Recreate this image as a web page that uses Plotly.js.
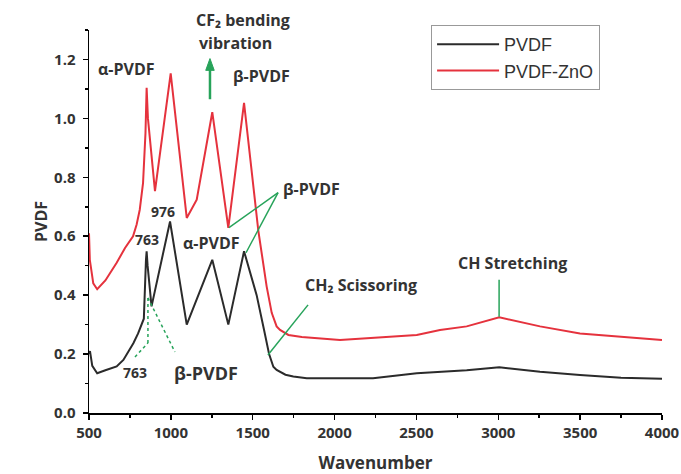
<!DOCTYPE html>
<html>
<head>
<meta charset="utf-8">
<script src="https://cdn.plot.ly/plotly-3.0.1.min.js"></script>
<style>html,body{margin:0;padding:0;background:#fff;}#chart{width:681px;height:474px;}</style>
</head>
<body>
<div id="chart"></div>
<script>
// Wavenumber / absorbance samples
const wnPVDF = [500, 506, 520, 550, 600, 669, 710, 771, 800, 835, 848, 852, 858, 882, 995, 1097, 1253, 1351, 1447, 1524, 1570, 1600, 1626, 1646, 1700, 1748, 1830, 2033, 2235, 2502, 2644, 2807, 3006, 3255, 3499, 3750, 4000];
const valPVDF = [0.20, 0.21, 0.16, 0.135, 0.145, 0.158, 0.18, 0.237, 0.27, 0.32, 0.52, 0.549, 0.50, 0.362, 0.65, 0.30, 0.52, 0.30, 0.549, 0.40, 0.28, 0.20, 0.157, 0.146, 0.13, 0.124, 0.118, 0.118, 0.118, 0.135, 0.14, 0.145, 0.155, 0.14, 0.129, 0.12, 0.116];

const wnZnO = [500, 505, 526, 550, 600, 669, 720, 769, 791, 810, 830, 845, 852, 860, 903, 999, 1097, 1158, 1253, 1351, 1447, 1534, 1585, 1616, 1646, 1667, 1718, 1800, 2033, 2339, 2502, 2644, 2807, 3006, 3255, 3499, 3750, 4000];
const valZnO = [0.61, 0.52, 0.44, 0.42, 0.45, 0.51, 0.56, 0.60, 0.64, 0.69, 0.78, 0.95, 1.104, 1.0, 0.753, 1.153, 0.662, 0.724, 1.021, 0.628, 1.053, 0.62, 0.43, 0.34, 0.294, 0.282, 0.265, 0.258, 0.248, 0.26, 0.265, 0.282, 0.294, 0.325, 0.294, 0.27, 0.258, 0.248];

const seriesNames = ['PVDF', 'PVDF-ZnO'];
const xTicks = [500, 1000, 1500, 2000, 2500, 3000, 3500, 4000];
const yTicks = [0.0, 0.2, 0.4, 0.6, 0.8, 1.0, 1.2];

const GREEN = '#27a35a';
const TXT = '#333333';
const annFont = {family: 'Open Sans, DejaVu Sans, sans-serif', size: 16, color: TXT, weight: 'bold'};

function label(text, x, y, size, yref) {
  return {text: text, x: x, y: y, xref: 'x', yref: yref || 'y', showarrow: false,
          font: Object.assign({}, annFont, size ? {size: size} : {}), xanchor: 'center', yanchor: 'middle'};
}

const annotations = [
  label('CF₂ bending', 1441, 1.026, 16, 'paper'),
  label('vibration', 1392, 0.966, 16, 'paper'),
  label('β-PVDF', 1551, 1.143),
  label('α-PVDF', 726, 1.167),
  label('β-PVDF', 1862, 0.759),
  label('976', 952, 0.684, 14),
  label('763', 854, 0.588, 14),
  label('α-PVDF', 1251, 0.578),
  label('763', 781, 0.136, 14),
  label('β-PVDF', 1215, 0.136, 18),
  label('CH₂ Scissoring', 2162, 0.435),
  label('CH Stretching', 3084, 0.51)
];

function seg(x0, y0, x1, y1, dash, w) {
  return {type: 'line', xref: 'x', yref: 'y', x0: x0, y0: y0, x1: x1, y1: y1,
          line: {color: GREEN, width: w || 1.5, dash: dash || 'solid'}};
}
const shapes = [
  // CF2 arrow (shaft + head)
  seg(1239, 1.065, 1239, 1.17, 'solid', 2.5),
  {type: 'path', xref: 'x', yref: 'y', path: 'M 1213,1.163 L 1265,1.163 L 1239,1.203 Z',
   fillcolor: GREEN, line: {color: GREEN, width: 1}},
  seg(1655, 0.748, 1355, 0.629),
  seg(1655, 0.748, 1459, 0.544),
  seg(1838, 0.367, 1593, 0.197),
  seg(3005, 0.452, 3005, 0.327),
  seg(781, 0.19, 860, 0.238, 'dot'),
  seg(860, 0.238, 860, 0.391, 'dot'),
  seg(860, 0.391, 1025, 0.207, 'dot')
];

const traces = [
  {x: wnPVDF, y: valPVDF, name: seriesNames[0], type: 'scatter', mode: 'lines',
   line: {color: '#2b2b2b', width: 2}},
  {x: wnZnO, y: valZnO, name: seriesNames[1], type: 'scatter', mode: 'lines',
   line: {color: '#e5323d', width: 2}}
];

const layout = {
  width: 681, height: 474,
  margin: {l: 89, r: 19, t: 30, b: 61},
  paper_bgcolor: '#ffffff', plot_bgcolor: '#ffffff',
  showlegend: true,
  legend: {x: 0.597, y: 1.013, xanchor: 'left', yanchor: 'top',
           bgcolor: '#ffffff', bordercolor: '#999999', borderwidth: 1,
           font: {family: 'Liberation Sans, Arial, sans-serif', size: 18, color: TXT},
           itemwidth: 62, tracegroupgap: 0},
  xaxis: {range: [500, 4000], tickvals: xTicks, ticktext: xTicks.map(String),
          showgrid: false, zeroline: false, showline: true, linecolor: '#000', linewidth: 1.5,
          ticks: 'outside', ticklen: 5, tickwidth: 1.5, tickcolor: '#000',
          minor: {dtick: 250, tick0: 500, ticks: 'outside', ticklen: 3, tickcolor: '#000', showgrid: false},
          tickfont: {family: 'Open Sans, sans-serif', size: 15, color: TXT, weight: 'bold'},
          title: {text: 'Wavenumber', font: {family: 'Open Sans, sans-serif', size: 17, color: TXT, weight: 'bold'}, standoff: 16}},
  yaxis: {range: [0, 1.3], tickvals: yTicks, ticktext: yTicks.map(v => v.toFixed(1)),
          showgrid: false, zeroline: false, showline: true, linecolor: '#000', linewidth: 1.5,
          ticks: 'outside', ticklen: 5, tickwidth: 1.5, tickcolor: '#000', ticklabelstandoff: 4,
          minor: {dtick: 0.1, tick0: 0, ticks: 'outside', ticklen: 3, tickcolor: '#000', showgrid: false},
          tickfont: {family: 'Open Sans, sans-serif', size: 15, color: TXT, weight: 'bold'},
          title: {text: 'PVDF', font: {family: 'Open Sans, sans-serif', size: 16, color: TXT, weight: 'bold'}, standoff: 2}},
  annotations: annotations,
  shapes: shapes
};

Plotly.newPlot('chart', traces, layout, {displayModeBar: false, staticPlot: true});
</script>
</body>
</html>
